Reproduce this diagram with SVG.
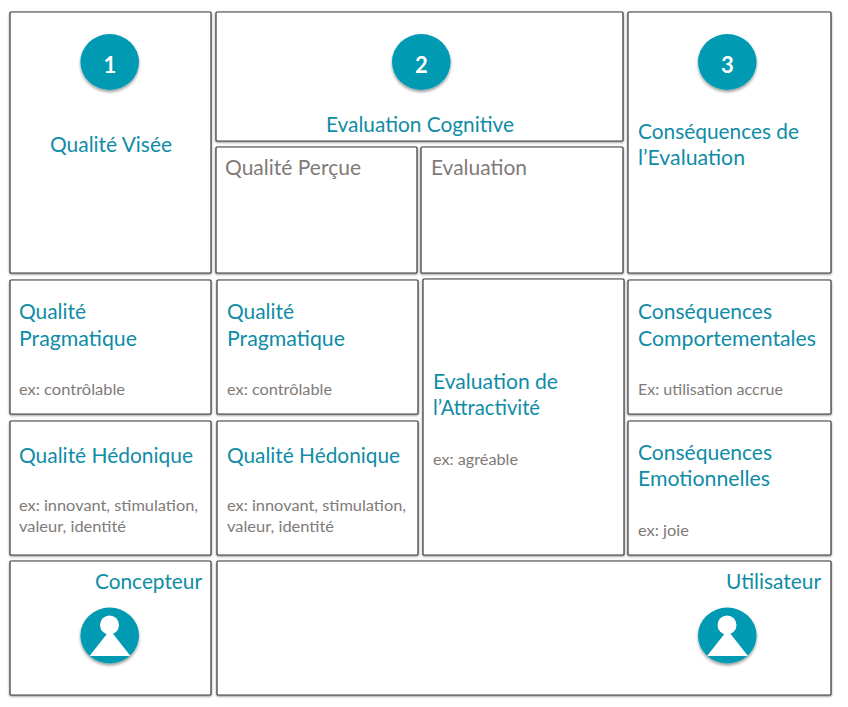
<svg xmlns="http://www.w3.org/2000/svg" width="848" height="707" viewBox="0 0 848 707">
<style>
.b{fill:#fff;stroke:#3a3a3a;stroke-width:1.2;filter:url(#s)}
.t,.g,.e,.n{font-family:"Lato","Open Sans",sans-serif}
.t{font-size:21px;fill:#0f8ca6}
.g{font-size:21px;fill:#7f7a78}
.e{font-size:15.5px;fill:#7f7a78}
.n{font-size:22px;fill:#fff;font-weight:700;text-anchor:middle}
.c{fill:#049bb3;filter:url(#c)}
</style>
<defs>
<filter id="s" x="-5%" y="-5%" width="110%" height="110%"><feDropShadow dx="0" dy="1" stdDeviation="0.8" flood-color="#000" flood-opacity="0.45"/></filter>
<filter id="c" x="-20%" y="-20%" width="140%" height="150%"><feDropShadow dx="0" dy="2" stdDeviation="1.5" flood-color="#000" flood-opacity="0.4"/></filter>
</defs>
<g id="connectors"/>
<g id="n1"><rect class="b" x="10" y="12" width="201" height="261" rx="1"/><ellipse class="c" cx="109.7" cy="62" rx="29.3" ry="28"/><text class="n" x="110" y="72.5">1</text><text class="t" lengthAdjust="spacingAndGlyphs" x="50" y="152" textLength="122">Qualité Visée</text></g>
<g id="n2"><rect class="b" x="216" y="12" width="407" height="129" rx="1"/><ellipse class="c" cx="421.3" cy="62" rx="29.3" ry="28"/><text class="n" x="421.5" y="72.5">2</text><text class="t" lengthAdjust="spacingAndGlyphs" x="326" y="132" textLength="188">Evaluation Cognitive</text></g>
<g id="n3"><rect class="b" x="216" y="147" width="201" height="126" rx="1"/><text class="g" lengthAdjust="spacingAndGlyphs" x="225" y="175" textLength="136">Qualité Perçue</text></g>
<g id="n4"><rect class="b" x="421" y="147" width="202" height="126" rx="1"/><text class="g" lengthAdjust="spacingAndGlyphs" x="431" y="175" textLength="96">Evaluation</text></g>
<g id="n5"><rect class="b" x="628" y="12" width="203" height="261" rx="1"/><ellipse class="c" cx="727.3" cy="62" rx="29.3" ry="28"/><text class="n" x="727.5" y="72.5">3</text><text class="t" lengthAdjust="spacingAndGlyphs" x="638" y="139" textLength="161">Conséquences de</text><text class="t" lengthAdjust="spacingAndGlyphs" x="638" y="165" textLength="107">l’Evaluation</text></g>
<g id="n6"><rect class="b" x="10" y="280" width="201" height="134" rx="1"/><text class="t" lengthAdjust="spacingAndGlyphs" x="19" y="319" textLength="67">Qualité</text><text class="t" lengthAdjust="spacingAndGlyphs" x="19" y="346" textLength="118">Pragmatique</text><text class="e" lengthAdjust="spacingAndGlyphs" x="19" y="395" textLength="106">ex: contrôlable</text></g>
<g id="n7"><rect class="b" x="217" y="280" width="201" height="134" rx="1"/><text class="t" lengthAdjust="spacingAndGlyphs" x="227" y="319" textLength="67">Qualité</text><text class="t" lengthAdjust="spacingAndGlyphs" x="227" y="346" textLength="118">Pragmatique</text><text class="e" lengthAdjust="spacingAndGlyphs" x="227" y="395" textLength="105">ex: contrôlable</text></g>
<g id="n8"><rect class="b" x="423" y="279" width="201" height="276" rx="1"/><text class="t" lengthAdjust="spacingAndGlyphs" x="433" y="389" textLength="125">Evaluation de</text><text class="t" lengthAdjust="spacingAndGlyphs" x="433" y="415" textLength="107">l’Attractivité</text><text class="e" lengthAdjust="spacingAndGlyphs" x="433" y="465" textLength="85">ex: agréable</text></g>
<g id="n9"><rect class="b" x="628" y="280" width="203" height="134" rx="1"/><text class="t" lengthAdjust="spacingAndGlyphs" x="638" y="319" textLength="134">Conséquences</text><text class="t" lengthAdjust="spacingAndGlyphs" x="638" y="346" textLength="178">Comportementales</text><text class="e" lengthAdjust="spacingAndGlyphs" x="638" y="395" textLength="145">Ex: utilisation accrue</text></g>
<g id="n10"><rect class="b" x="10" y="421" width="201" height="134" rx="1"/><text class="t" lengthAdjust="spacingAndGlyphs" x="19" y="463" textLength="174">Qualité Hédonique</text><text class="e" lengthAdjust="spacingAndGlyphs" x="19" y="511" textLength="179">ex: innovant, stimulation,</text><text class="e" lengthAdjust="spacingAndGlyphs" x="19" y="532" textLength="107">valeur, identité</text></g>
<g id="n11"><rect class="b" x="217" y="421" width="201" height="134" rx="1"/><text class="t" lengthAdjust="spacingAndGlyphs" x="227" y="463" textLength="173">Qualité Hédonique</text><text class="e" lengthAdjust="spacingAndGlyphs" x="227" y="511" textLength="179">ex: innovant, stimulation,</text><text class="e" lengthAdjust="spacingAndGlyphs" x="227" y="532" textLength="107">valeur, identité</text></g>
<g id="n12"><rect class="b" x="628" y="421" width="203" height="134" rx="1"/><text class="t" lengthAdjust="spacingAndGlyphs" x="638" y="460" textLength="134">Conséquences</text><text class="t" lengthAdjust="spacingAndGlyphs" x="638" y="486" textLength="132">Emotionnelles</text><text class="e" lengthAdjust="spacingAndGlyphs" x="638" y="536" textLength="51">ex: joie</text></g>
<g id="n13"><rect class="b" x="10" y="561" width="201" height="134" rx="1"/><text class="t" lengthAdjust="spacingAndGlyphs" x="95" y="589" textLength="107">Concepteur</text><ellipse class="c" cx="109.7" cy="635.5" rx="29.3" ry="28"/><circle cx="109.5" cy="625" r="9.5" fill="#fff"/><path d="M110 630L130.5 656H89.5Z" fill="#fff"/></g>
<g id="n14"><rect class="b" x="217" y="561" width="614" height="134" rx="1"/><text class="t" lengthAdjust="spacingAndGlyphs" x="726" y="589" textLength="95">Utilisateur</text><ellipse class="c" cx="727.3" cy="635.5" rx="29.3" ry="28"/><circle cx="727" cy="625" r="9.5" fill="#fff"/><path d="M727.5 630L748 656H707Z" fill="#fff"/></g>
</svg>
